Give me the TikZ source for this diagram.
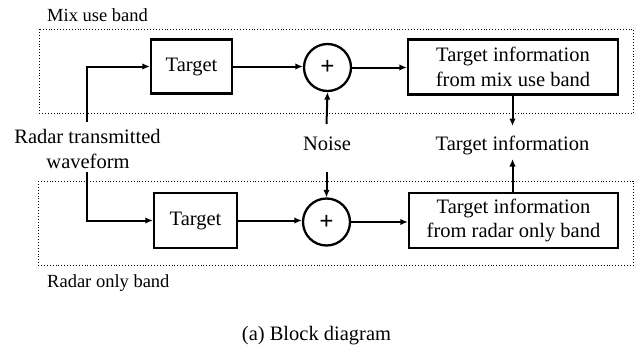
\documentclass[tikz,border=0pt]{standalone}
\usepackage{fontspec}
\setmainfont{Liberation Serif}
\usetikzlibrary{arrows.meta}
\begin{document}
\begin{tikzpicture}[x=1pt,y=-1pt,
  mainfont/.style={font=\fontsize{20.5}{24.5}\selectfont},
  smallfont/.style={font=\fontsize{18.5}{22}\selectfont},
  blk/.style={draw, line width=2.3pt, mainfont, align=center, inner sep=0pt},
  sumnode/.style={draw, circle, line width=2.3pt, minimum size=47pt, inner sep=0pt, font=\fontsize{25}{25}\selectfont\bfseries},
  conn/.style={line width=2pt, -{Latex[length=7.5pt,width=6.5pt]}},
  band/.style={dotted, line width=0.9pt},
  lbl/.style={mainfont, inner sep=0pt, align=center}]
\useasboundingbox (0,0) rectangle (644,351);
% dotted band frames
\draw[band] (39,29) rectangle (633,113);
\draw[band] (38,181) rectangle (633,265);
\node[smallfont, anchor=base west, inner sep=0pt] (mix) at (47,21) {Mix use band};
\node[smallfont, anchor=base west, inner sep=0pt] (ronly) at (47,287) {Radar only band};
% blocks
\node[blk, minimum width=81pt, minimum height=54pt] (t1) at (191.5,66.5) {Target};
\node[sumnode] (s1) at (327.5,67.5) {+};
\node[blk, minimum width=210pt, minimum height=55pt] (r1) at (513,67) {Target information\\from mix use band};
\node[blk, minimum width=83pt, minimum height=55pt] (t2) at (195.5,220.5) {Target};
\node[sumnode] (s2) at (326.5,222) {+};
\node[blk, minimum width=209pt, minimum height=55pt] (r2) at (513.5,220.5) {Target information\\from radar only band};
% texts
\node[lbl, anchor=base] (rtw1) at (87.5,143.5) {Radar transmitted};
\node[lbl, anchor=base] (rtw2) at (88,168) {waveform};
\node[lbl, anchor=base] (noise) at (327,150) {Noise};
\node[lbl, anchor=base] (tinfo) at (512.5,150) {Target information};
\node[mainfont, anchor=base, inner sep=0pt] (cap) at (316.5,340) {(a) Block diagram};
% connector free ends
\coordinate (rtwtop) at (87,122);
\coordinate (rtwbot) at (87,172);
\coordinate (ntop) at (326.5,124);
\coordinate (nbot) at (326.5,172);
\coordinate (ttop) at (512.5,126);
\coordinate (tbot) at (512.5,159);
% connectors
\draw[conn] (rtwtop) |- (t1.west);
\draw[conn] (rtwbot) |- (t2.west);
\draw[conn] (t1.east) -- (s1.west |- t1.east);
\draw[conn] (t2.east) -- (s2.west |- t2.east);
\draw[conn] (s1.east) -- (r1.west |- s1.east);
\draw[conn] (s2.east) -- (r2.west |- s2.east);
\draw[conn] (ntop) -- (s1.south);
\draw[conn] (nbot) -- (s2.north);
\draw[conn] (r1.south -| ttop) -- (ttop);
\draw[conn] (r2.north -| tbot) -- (tbot);
\end{tikzpicture}
\end{document}
